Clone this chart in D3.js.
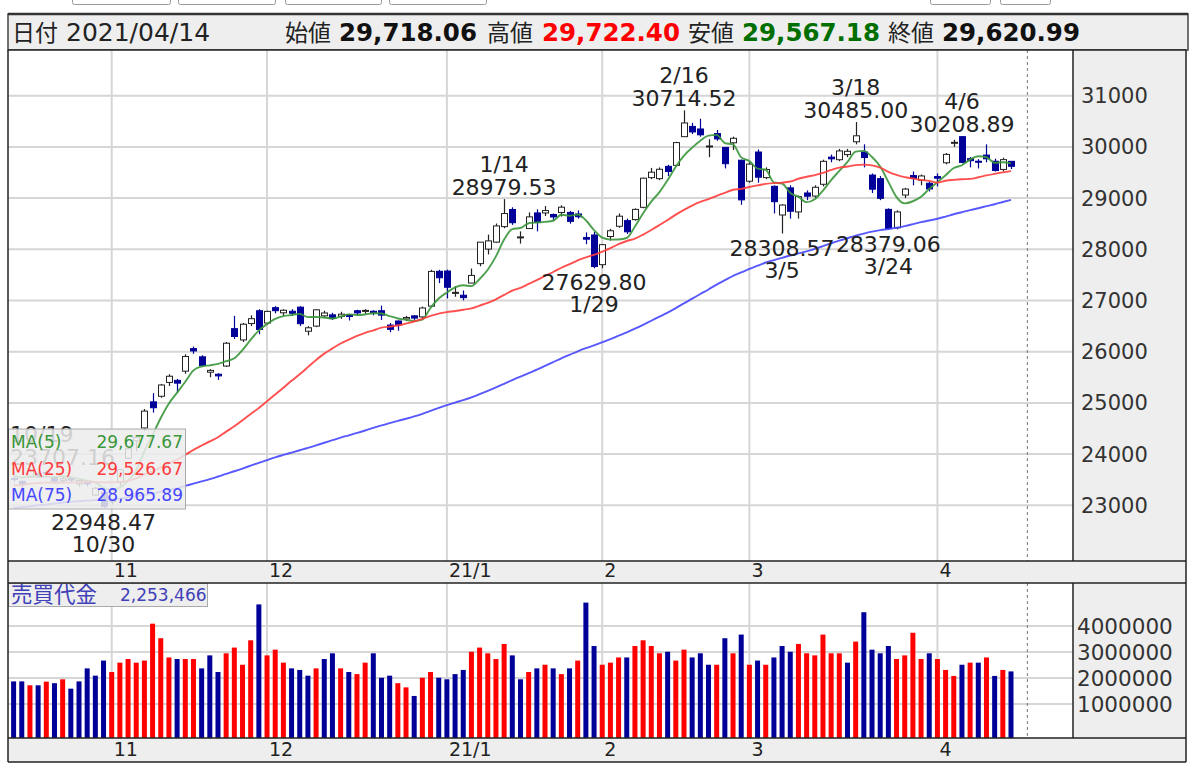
<!DOCTYPE html>
<html><head><meta charset="utf-8">
<script src="https://cdn.jsdelivr.net/npm/d3@7"></script>
<style>body{margin:0;background:#fff;overflow:hidden}svg{display:block}</style>
</head><body>
<svg id="c" width="1200" height="766"></svg>
<script>
// ---------- DATA ----------
const dates = ["10/15","10/16","10/19","10/20","10/21","10/22","10/23","10/26","10/27","10/28","10/29","10/30",
"11/02","11/04","11/05","11/06","11/09","11/10","11/11","11/12","11/13","11/16","11/17","11/18","11/19","11/20","11/24","11/25","11/26","11/27","11/30",
"12/01","12/02","12/03","12/04","12/07","12/08","12/09","12/10","12/11","12/14","12/15","12/16","12/17","12/18","12/21","12/22","12/23","12/24","12/25","12/28","12/29","12/30",
"01/04","01/05","01/06","01/07","01/08","01/12","01/13","01/14","01/15","01/18","01/19","01/20","01/21","01/22","01/25","01/26","01/27","01/28","01/29",
"02/01","02/02","02/03","02/04","02/05","02/08","02/09","02/10","02/12","02/15","02/16","02/17","02/18","02/19","02/22","02/24","02/25","02/26",
"03/01","03/02","03/03","03/04","03/05","03/08","03/09","03/10","03/11","03/12","03/15","03/16","03/17","03/18","03/19","03/22","03/23","03/24","03/25","03/26","03/29","03/30","03/31",
"04/01","04/02","04/05","04/06","04/07","04/08","04/09","04/12","04/13","04/14"];

const openV = [23523,23468,23560,23620,23640,23540,23480,23520,23420,23470,23200,23250,
23070,23450,23920,24260,24510,25020,25130,25400,25440,25620,26060,25900,25600,25560,25720,26450,26230,26550,26800,
26560,26860,26760,26790,26870,26400,26500,26700,26720,26690,26720,26800,26790,26790,26800,26520,26600,26640,26700,26680,26890,27570,
27575.57,27151.38,27102.85,27340.46,27720.14,28004.37,28140.10,28442.73,28777.47,28238.68,28405.22,28710,28710,28680,28720,28720,28690,28230,28280,
27700,28250,28450,28560,28580,28820,29400,29380,29620,29640,30200,30400,30350,30000,30260,29990,30080,29740,
29330,29900,29400,29230,28670,29200,28730,29100,29040,29270,29800,29750,29850,30100,29900,29450,29380,28780,28420,29060,29440,29350,29290,
29420,29690,30070,30200,29770,29720,29840,29720,29560,29718.06];

const highV = [23570,23478,23707.16,23645,23690,23555,23560,23560,23500,23490,23360,23270,
23315,23710,24150,24350,24880,25190,25370,25560,25470,25950,26100,25930,25660,25580,26190,26700,26560,26710,26830,
26800,26890,26830,26830,26890,26500,26830,26800,26760,26780,26740,26820,26830,26810,26900,26560,26610,26700,26710,26880,27600,27600,
27602.11,27279.78,27196.40,27624.73,28139.03,28287.37,28503.43,28979.53,28820.50,28349.97,28720.77,28780,28846,28700,28860,28750,28760,28330,28340,
28100,28400,28700,28600,28800,29400,29590,29600,29650,30100,30714.52,30470,30550,30150,30330,30000,30200,29750,
29700,29950,29600,29250,28880,29250,29050,29150,29250,29750,29850,29960,29960,30485.00,30050,29480,29430,28800,28760,29200,29520,29460,29320,
29480,29880,30140,30208.89,29800,29760,30050,29770,29790,29722.40];

const lowV = [23453,23335,23535,23535,23585,23430,23440,23460,23360,23370,23180,22948.47,
23015,23380,23900,24050,24450,24810,25100,25330,25200,25570,25960,25700,25500,25450,25700,26250,26190,26500,26340,
26530,26750,26700,26700,26500,26320,26480,26660,26620,26640,26610,26700,26740,26710,26620,26380,26410,26600,26620,26650,26880,27340,
27042.32,27073.46,27002.18,27340.46,27667.75,27899.45,28128.59,28411.58,28477.03,28111.54,28405.22,28350,28651,28560,28640,28500,28600,28100,27629.80,
27630,28170,28420,28300,28560,28800,29370,29350,29430,29620,30200,30250,30200,29800,30120,29580,29940,28870,
29300,29300,29370,28700,28308.57,28600,28600,28960,29000,29230,29700,29720,29800,30050,29600,29100,28960,28379.06,28390,29000,29250,29250,29130,
29230,29660,30000,29680,29600,29580,29700,29520,29520,29567.18];

const closeV = [23507.23,23410.63,23671.13,23567.04,23639.46,23474.27,23516.59,23494.34,23485.80,23418.51,23331.94,22977.13,
23295.48,23695.23,24105.28,24325.23,24839.84,24905.59,25349.60,25520.88,25385.87,25906.93,26014.62,25728.14,25634.34,25527.37,26165.59,26296.86,26537.31,26644.71,26433.62,
26787.54,26800.98,26809.37,26751.24,26547.44,26467.08,26817.94,26756.24,26652.52,26732.44,26687.84,26757.40,26806.67,26763.39,26714.42,26436.39,26524.79,26668.35,26656.61,26854.03,27568.15,27444.17,
27258.38,27158.63,27055.94,27490.13,28139.03,28164.34,28456.59,28698.26,28519.18,28242.21,28633.46,28523.26,28756.86,28631.45,28822.29,28546.18,28635.21,28197.42,27663.39,
28091.05,28362.17,28646.50,28341.95,28779.19,29388.50,29505.93,29562.93,29520.07,30084.15,30467.75,30292.19,30236.09,30017.92,30156.03,29671.70,30168.27,28966.01,
29663.50,29408.17,29559.10,28930.11,28864.32,28743.25,29027.94,29036.56,29211.64,29717.83,29766.97,29921.09,29914.33,30216.75,29792.05,29174.15,28995.92,28405.52,28729.88,29176.70,29384.52,29432.70,29178.80,
29388.87,29854.00,30089.25,29696.63,29730.79,29708.98,29768.06,29538.73,29751.61,29620.99];

// closes before the first visible day (needed for the moving averages)
const priorCloses = [22259.79,22512.08,22084.58,22288.14,
22121.73,22145.96,22306.48,22714.44,22614.69,22438.65,22529.29,22290.81,22784.74,22587.01,22945.50,22770.36,22696.42,22717.48,22884.22,22751.61,22715.85,22657.38,22397.11,22339.23,21710.00,
22195.38,22573.66,22514.85,22418.15,22329.94,22750.24,22843.96,23249.61,23289.36,23096.75,23051.08,23110.61,22880.62,22920.30,22985.51,23296.77,23290.86,23208.86,22882.65,23139.76,
23138.07,23247.15,23465.53,23205.43,23089.95,23274.13,23032.54,23235.47,23406.49,23559.30,23454.89,23475.53,23319.37,23360.30,23346.49,23087.82,23204.62,23511.62,23539.10,23185.12,
23029.90,23312.14,23433.73,23422.82,23647.07,23619.69,23558.69,23601.78,23626.73];

const volumeV = [1870000,1870000,1720000,1720000,1860000,1800000,1950000,1590000,1870000,2370000,2090000,2670000,
2230000,2590000,2730000,2590000,2670000,4090000,3530000,2790000,2730000,2730000,2730000,2370000,2870000,2230000,2950000,3170000,2510000,3450000,4830000,
2870000,3090000,2590000,2370000,2310000,2090000,2370000,2730000,2950000,2370000,2230000,2150000,2590000,2950000,2010000,2090000,1800000,1640000,1310000,2010000,2230000,2010000,
1950000,2150000,2310000,3010000,3170000,2950000,2730000,3310000,2870000,1950000,2230000,2370000,2510000,2370000,2150000,2370000,2670000,4900000,3230000,
2510000,2590000,2790000,2790000,3230000,3450000,3230000,2950000,3010000,2670000,3090000,2790000,2950000,2510000,2510000,3530000,2950000,3670000,
2510000,2670000,2510000,2790000,3230000,3010000,3310000,2950000,2870000,3670000,2950000,2950000,2590000,3400000,4530000,3090000,2950000,3230000,2730000,2870000,3740000,2730000,2950000,
2730000,2310000,2080000,2510000,2590000,2590000,2790000,2080000,2310000,2253466];

const priceTicks = [23000,24000,25000,26000,27000,28000,29000,30000,31000];
const volumeTicks = [1000000,2000000,3000000,4000000];
const monthLabels = ["11","12","21/1","2","3","4"];
const maPeriods = [5,25,75];
const maNames = ["MA(5)","MA(25)","MA(75)"];
const highMarks = [{d:"10/19",v:23707.16},{d:"1/14",v:28979.53},{d:"2/16",v:30714.52},{d:"3/18",v:30485.00},{d:"4/6",v:30208.89}];
const lowMarks = [{d:"10/30",v:22948.47},{d:"1/29",v:27629.80},{d:"3/5",v:28308.57},{d:"3/24",v:28379.06}];
const headerDate = "2021/04/14";
const headerLabels = ["始値","高値","安値","終値"];
const volumeTitle = "売買代金";

// ---------- LAYOUT ----------
const svg = d3.select("#c");
const L = 8, R = 1186, PR = 1073;
const mainTop = 50, mainBot = 561, row1Bot = 583, volTop = 583, volBot = 738, row2Bot = 762;
const n = closeV.length;
const x = d3.scaleLinear().domain([0, n - 1]).range([13.6, 1011]);
const y = d3.scaleLinear().domain([23000, 31000]).range([505.3, 95.7]);
const yv = d3.scaleLinear().domain([0, 4000000]).range([730, 626]);
const FONT = "'DejaVu Sans', Verdana, sans-serif";
const CJK = "'Noto Sans CJK JP', 'Noto Sans', sans-serif";
const UP = "#ffffff", DOWN = "#000099";
const maColors = ["#3a963a", "#ff3c3c", "#4646ff"];
const fmt = d3.format(",.2f");

// top partial buttons
[[72,170],[178,275],[285,381],[389,486],[930,990],[1000,1050]].forEach(b => {
  svg.append("rect").attr("x", b[0]+0.5).attr("y", -10).attr("width", b[1]-b[0]).attr("height", 14.5)
    .attr("fill", "#fff").attr("stroke", "#9a9a9a").attr("rx", 2);
});

// header
svg.append("rect").attr("x", L).attr("y", 14).attr("width", 1188 - L).attr("height", 36)
  .attr("fill", "#eeeeee").attr("stroke", "#444").attr("stroke-width", 1.5);
svg.append("line").attr("x1", L).attr("x2", 1188).attr("y1", 14).attr("y2", 14).attr("stroke", "#333").attr("stroke-width", 2.5);
const hdr = svg.append("g");
hdr.append("text").attr("x", 12).attr("y", 41).attr("font-family", CJK).attr("font-size", 23).attr("fill", "#222").text("日付");
hdr.append("text").attr("x", 66).attr("y", 41).attr("font-family", FONT).attr("font-size", 25).attr("fill", "#222").text(headerDate);
const last = n - 1;
const hdrVals = [openV[last], highV[last], lowV[last], closeV[last]];
const hdrCols = ["#111", "#ff0000", "#006f00", "#111"];
const hdrLX = [285, 487, 688, 888], hdrVX = [339, 542, 742, 942];
headerLabels.forEach((lab, i) => {
  hdr.append("text").attr("x", hdrLX[i]).attr("y", 41).attr("font-family", CJK).attr("font-size", 23).attr("fill", "#222").text(lab);
  hdr.append("text").attr("x", hdrVX[i]).attr("y", 41).attr("font-family", FONT).attr("font-size", 24.5)
    .attr("font-weight", "bold").attr("fill", hdrCols[i]).text(fmt(hdrVals[i]));
});

// main panel backgrounds
svg.append("rect").attr("x", L).attr("y", mainTop).attr("width", PR - L).attr("height", mainBot - mainTop).attr("fill", "#fff");
svg.append("rect").attr("x", PR).attr("y", mainTop).attr("width", R - PR).attr("height", mainBot - mainTop).attr("fill", "#eeeeee");
svg.append("rect").attr("x", L).attr("y", mainBot).attr("width", R - L).attr("height", row1Bot - mainBot).attr("fill", "#eeeeee");
svg.append("rect").attr("x", L).attr("y", volTop).attr("width", PR - L).attr("height", volBot - volTop).attr("fill", "#fff");
svg.append("rect").attr("x", PR).attr("y", volTop).attr("width", R - PR).attr("height", volBot - volTop).attr("fill", "#eeeeee");
svg.append("rect").attr("x", L).attr("y", volBot).attr("width", R - L).attr("height", row2Bot - volBot).attr("fill", "#eeeeee");

const GRID = "#d6d6d6";
// price grid + labels
priceTicks.forEach(t => {
  svg.append("line").attr("x1", L).attr("x2", PR).attr("y1", y(t)).attr("y2", y(t)).attr("stroke", GRID).attr("stroke-width", 2);
  svg.append("text").attr("x", 1081).attr("y", y(t)).attr("dy", "0.36em").attr("font-family", FONT).attr("font-size", 21)
    .attr("fill", "#333").text(t);
});
// volume grid + labels
volumeTicks.forEach(t => {
  svg.append("line").attr("x1", L).attr("x2", PR).attr("y1", yv(t)).attr("y2", yv(t)).attr("stroke", GRID).attr("stroke-width", 2);
  svg.append("text").attr("x", 1077).attr("y", yv(t)).attr("dy", "0.36em").attr("font-family", FONT).attr("font-size", 21.5)
    .attr("fill", "#333").text(t);
});
// month starts
const monthIdx = [];
for (let i = 1; i < n; i++) if (dates[i].slice(0, 2) !== dates[i - 1].slice(0, 2)) monthIdx.push(i);
monthIdx.forEach((mi, k) => {
  const xx = x(mi);
  svg.append("line").attr("x1", xx).attr("x2", xx).attr("y1", mainTop).attr("y2", mainBot).attr("stroke", GRID).attr("stroke-width", 2);
  svg.append("line").attr("x1", xx).attr("x2", xx).attr("y1", volTop).attr("y2", volBot).attr("stroke", GRID).attr("stroke-width", 2);
  [577, 756].forEach(by => svg.append("text").attr("x", xx + 2).attr("y", by).attr("font-family", FONT).attr("font-size", 19)
    .attr("fill", "#222").text(monthLabels[k]));
});
// dotted "next" line
const dotX = x(n + 1);
[[mainTop, mainBot], [volTop, volBot]].forEach(r => svg.append("line").attr("x1", dotX).attr("x2", dotX).attr("y1", r[0]).attr("y2", r[1])
  .attr("stroke", "#777").attr("stroke-width", 1).attr("stroke-dasharray", "3,3"));

// candles
const cw = 6;
const cg = svg.append("g");
for (let i = 0; i < n; i++) {
  const up = closeV[i] >= openV[i];
  const xc = Math.round(x(i)) + 0.5;
  cg.append("line").attr("x1", xc).attr("x2", xc).attr("y1", y(highV[i])).attr("y2", y(lowV[i]))
    .attr("stroke", up ? "#222" : DOWN).attr("stroke-width", 1.2);
  const top = y(Math.max(openV[i], closeV[i])), bot = y(Math.min(openV[i], closeV[i]));
  cg.append("rect").attr("x", xc - cw / 2).attr("y", top).attr("width", cw).attr("height", Math.max(1, bot - top))
    .attr("fill", up ? UP : DOWN).attr("stroke", up ? "#222" : DOWN).attr("stroke-width", 1);
}

// moving averages
const allClose = priorCloses.concat(closeV);
const off = priorCloses.length;
const maData = maPeriods.map(p => closeV.map((c, i) => d3.mean(allClose.slice(off + i - p + 1, off + i + 1))));
const lineGen = d3.line().x((d, i) => x(i)).y(d => y(d)).curve(d3.curveMonotoneX);
maData.forEach((arr, k) => {
  svg.append("path").attr("d", lineGen(arr)).attr("fill", "none").attr("stroke", maColors[k]).attr("stroke-width", 1.9)
    .attr("stroke-linejoin", "round").attr("opacity", 0.9);
});

// high / low marks
function dateIndex(md) {
  const [m, d] = md.split("/").map(Number);
  return dates.findIndex(s => +s.slice(0, 2) === m && +s.slice(3) === d);
}
function placeLabel(txt, xc, by) {
  const t = svg.append("text").attr("x", xc).attr("y", by).attr("text-anchor", "middle").attr("font-family", FONT)
    .attr("font-size", 22).attr("fill", "#222").text(txt);
  const w = t.node().getComputedTextLength();
  if (xc - w / 2 < L + 2) t.attr("x", L + 2 + w / 2);
}
highMarks.forEach(m => {
  const i = dateIndex(m.d);
  placeLabel(d3.format(".2f")(m.v), x(i), y(m.v) - 4);
  placeLabel(m.d, x(i), y(m.v) - 27);
});
lowMarks.forEach(m => {
  const i = dateIndex(m.d);
  placeLabel(d3.format(".2f")(m.v), x(i), y(m.v) + 22);
  placeLabel(m.d, x(i), y(m.v) + 44);
});

// MA legend
svg.append("rect").attr("x", L + 0.5).attr("y", 429).attr("width", 177).attr("height", 80)
  .attr("fill", "rgba(236,236,236,0.86)").attr("stroke", "#aaa");
maNames.forEach((nm, k) => {
  const by = 448 + k * 26.5;
  svg.append("text").attr("x", 11).attr("y", by).attr("font-family", FONT).attr("font-size", 17).attr("fill", maColors[k]).text(nm);
  svg.append("text").attr("x", 183).attr("y", by).attr("text-anchor", "end").attr("font-family", FONT).attr("font-size", 17)
    .attr("fill", maColors[k]).text(fmt(maData[k][n - 1]));
});

// volume bars
const vg = svg.append("g");
for (let i = 0; i < n; i++) {
  const prev = i === 0 ? priorCloses[priorCloses.length - 1] : closeV[i - 1];
  const col = closeV[i] >= prev ? "#ff0000" : DOWN;
  vg.append("rect").attr("x", x(i) - 2.5).attr("y", yv(volumeV[i])).attr("width", 5).attr("height", volBot - yv(volumeV[i]))
    .attr("fill", col);
}
// volume title box
svg.append("rect").attr("x", L + 0.5).attr("y", volTop + 0.5).attr("width", 199).attr("height", 23)
  .attr("fill", "#eeeeee").attr("stroke", "#aaa");
svg.append("text").attr("x", 11).attr("y", volTop + 19).attr("font-family", CJK).attr("font-size", 21.5).attr("fill", "#4040b8").text(volumeTitle);
svg.append("text").attr("x", 120).attr("y", volTop + 18).attr("font-family", FONT).attr("font-size", 17).attr("fill", "#4040b8")
  .text(d3.format(",")(volumeV[n - 1]));

// borders
const B = "#222";
[[L, mainTop, R, mainTop], [L, mainBot, R, mainBot], [L, row1Bot, R, row1Bot], [L, volBot, R, volBot], [L, row2Bot, R, row2Bot],
 [L, mainTop, L, row2Bot], [R, mainTop, R, row2Bot], [PR, mainTop, PR, mainBot], [PR, volTop, PR, volBot]].forEach(s => {
  svg.append("line").attr("x1", s[0]).attr("y1", s[1]).attr("x2", s[2]).attr("y2", s[3]).attr("stroke", B).attr("stroke-width", 1.5);
});
</script>
</body></html>
